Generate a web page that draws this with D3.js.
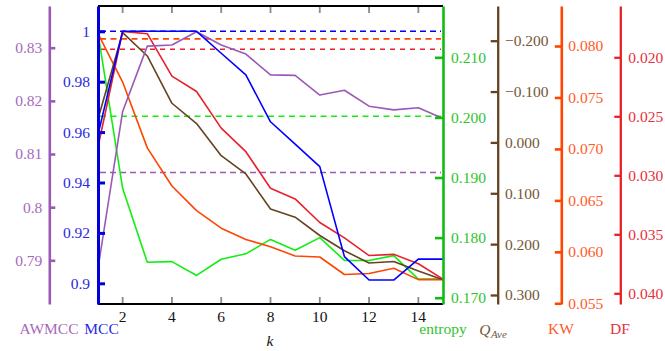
<!DOCTYPE html>
<html>
<head>
<meta charset="utf-8">
<script src="https://cdn.jsdelivr.net/npm/d3@7/dist/d3.min.js"></script>
<style>
  html, body { margin: 0; padding: 0; background: #fff; }
  svg { display: block; font-family: "Liberation Serif", "DejaVu Serif", serif; }
</style>
</head>
<body>
<svg id="chart" width="665" height="351"></svg>
<script>
// Number of clusters k
const ks = [1, 2, 3, 4, 5, 6, 7, 8, 9, 10, 11, 12, 13, 14, 15];
const kTicks = [2, 4, 6, 8, 10, 12, 14];

// Scores per k
const awmcc   = [0.7885, 0.8180, 0.8303, 0.8305, 0.8330, 0.8305, 0.8288, 0.8249, 0.8248, 0.8211, 0.8220, 0.8190, 0.8183, 0.8187, 0.8167];
const mcc     = [0.959, 1.0, 1.0, 1.0, 1.0, 0.9913, 0.9827, 0.9641, 0.9552, 0.9463, 0.9106, 0.9013, 0.9013, 0.9096, 0.9096];
const entropy = [0.2140, 0.1882, 0.1759, 0.1760, 0.1737, 0.1764, 0.1773, 0.1797, 0.1779, 0.1800, 0.1762, 0.1762, 0.1770, 0.1731, 0.1731];
const qave    = [-0.046, -0.216, -0.170, -0.077, -0.037, 0.026, 0.062, 0.131, 0.147, 0.183, 0.213, 0.237, 0.234, 0.253, 0.270];
const kw      = [0.0812, 0.0765, 0.0701, 0.0664, 0.0640, 0.0623, 0.0612, 0.0605, 0.0596, 0.0595, 0.0578, 0.0579, 0.0584, 0.0573, 0.0573];
const df      = [0.0276, 0.0178, 0.0180, 0.0216, 0.0229, 0.0260, 0.0280, 0.0311, 0.0320, 0.0340, 0.0353, 0.0368, 0.0367, 0.0375, 0.0388];

// Reference levels (dashed)
const refAwmcc = 0.8065;
const refMcc = 1.0;
const refEntropy = 0.2002;
const refKw = 0.0807;
const refDf = 0.01932;

// Tick values and labels per axis
const awTicks = [0.79, 0.80, 0.81, 0.82, 0.83];
const awLabels = ["0.79", "0.8", "0.81", "0.82", "0.83"];
const mccTicks = [0.90, 0.92, 0.94, 0.96, 0.98, 1.00];
const mccLabels = ["0.9", "0.92", "0.94", "0.96", "0.98", "1"];
const entTicks = [0.17, 0.18, 0.19, 0.20, 0.21];
const entLabels = ["0.170", "0.180", "0.190", "0.200", "0.210"];
const qTicks = [-0.2, -0.1, 0.0, 0.1, 0.2, 0.3];
const qLabels = ["\u22120.200", "\u22120.100", "0.000", "0.100", "0.200", "0.300"];
const kwTicks = [0.055, 0.060, 0.065, 0.070, 0.075, 0.080];
const kwLabels = ["0.055", "0.060", "0.065", "0.070", "0.075", "0.080"];
const dfTicks = [0.020, 0.025, 0.030, 0.035, 0.040];
const dfLabels = ["0.020", "0.025", "0.030", "0.035", "0.040"];

const C = {
  purple: "#9b59b6",
  blue: "#0000ff",
  green: "#11ee11",
  greenAxis: "#11bb11",
  brown: "#654321",
  orange: "#ff4500",
  red: "#e8202a"
};

const svg = d3.select("#chart");
const plotTop = 6, plotBottom = 304, plotLeft = 98, plotRight = 443;
const FS = 15.5;

const x = d3.scaleLinear().domain([1, 15]).range([plotLeft, plotRight]);
const yAw  = d3.scaleLinear().domain([0.78178, 0.83785]).range([plotBottom, plotTop]);
const yMcc = d3.scaleLinear().domain([0.89179, 1.01004]).range([plotBottom, plotTop]);
const yEnt = d3.scaleLinear().domain([0.16895, 0.21854]).range([plotBottom, plotTop]);
const yQ   = d3.scaleLinear().domain([-0.26823, 0.31770]).range([plotTop, plotBottom]);
const yKw  = d3.scaleLinear().domain([0.083887, 0.054932]).range([plotTop, plotBottom]);
const yDf  = d3.scaleLinear().domain([0.015653, 0.040907]).range([plotTop, plotBottom]);

// Frame: top and bottom rules with grey k ticks
svg.append("line").attr("x1", plotLeft).attr("x2", plotRight).attr("y1", plotTop).attr("y2", plotTop)
  .attr("stroke", "#000").attr("stroke-width", 2.2);
svg.append("line").attr("x1", plotLeft).attr("x2", plotRight).attr("y1", plotBottom).attr("y2", plotBottom)
  .attr("stroke", "#000").attr("stroke-width", 2.2);
svg.append("g").selectAll("line").data(kTicks).join("line")
  .attr("x1", d => x(d)).attr("x2", d => x(d)).attr("y1", plotTop + 1).attr("y2", plotTop + 7)
  .attr("stroke", "#8a8a8a").attr("stroke-width", 1.8);
svg.append("g").selectAll("line").data(kTicks).join("line")
  .attr("x1", d => x(d)).attr("x2", d => x(d)).attr("y1", plotBottom - 1).attr("y2", plotBottom - 7)
  .attr("stroke", "#8a8a8a").attr("stroke-width", 1.8);
svg.append("g").selectAll("text").data(kTicks).join("text")
  .attr("x", d => x(d)).attr("y", 321.7).attr("text-anchor", "middle")
  .attr("font-size", FS).attr("fill", "#111").text(d => d);

// Dashed reference levels
const refs = [
  { v: refMcc, s: yMcc, c: C.blue, dash: "6,4", w: 1.5 },
  { v: refKw, s: yKw, c: C.orange, dash: "6,4.5", w: 1.8 },
  { v: refDf, s: yDf, c: C.red, dash: "5,5", w: 1.4 },
  { v: refEntropy, s: yEnt, c: C.green, dash: "6,4.5", w: 1.5 },
  { v: refAwmcc, s: yAw, c: C.purple, dash: "6,4", w: 1.5 }
];
svg.append("g").selectAll("line").data(refs).join("line")
  .attr("x1", x(1) + 2).attr("x2", x(15) - 2)
  .attr("y1", d => d.s(d.v)).attr("y2", d => d.s(d.v))
  .attr("stroke", d => d.c).attr("stroke-width", d => d.w)
  .attr("stroke-dasharray", d => d.dash);

// Series lines
const series = [
  { vals: entropy, s: yEnt, c: C.green },
  { vals: kw, s: yKw, c: C.orange },
  { vals: qave, s: yQ, c: C.brown },
  { vals: df, s: yDf, c: C.red },
  { vals: awmcc, s: yAw, c: C.purple },
  { vals: mcc, s: yMcc, c: C.blue }
];
series.forEach(sr => {
  const line = d3.line().x((d, i) => x(ks[i])).y(d => sr.s(d));
  svg.append("path").datum(sr.vals).attr("d", line)
    .attr("fill", "none").attr("stroke", sr.c).attr("stroke-width", 1.6)
    .attr("stroke-linejoin", "round");
});

// Axes
function styleAxis(g, color, labelColor, width) {
  g.select(".domain").attr("stroke", color).attr("stroke-width", width);
  g.selectAll(".tick line").attr("stroke", color).attr("stroke-width", width);
  g.selectAll(".tick text").attr("fill", labelColor).attr("font-size", FS)
    .attr("font-family", "Liberation Serif, DejaVu Serif, serif");
  g.attr("font-size", FS);
}
function lab(ticks, labels) { return d => labels[ticks.indexOf(d)]; }

const gAw = svg.append("g").attr("transform", "translate(49.3,0)")
  .call(d3.axisLeft(yAw).tickValues(awTicks).tickFormat(lab(awTicks, awLabels))
    .tickSizeInner(-6).tickSizeOuter(0).tickPadding(7));
styleAxis(gAw, C.purple, "#a669bb", 2.6);

const gMcc = svg.append("g").attr("transform", `translate(${plotLeft},0)`)
  .call(d3.axisLeft(yMcc).tickValues(mccTicks).tickFormat(lab(mccTicks, mccLabels))
    .tickSizeInner(-7).tickSizeOuter(0).tickPadding(8));
styleAxis(gMcc, "#0000dd", "#2a2ae0", 3);

const gEnt = svg.append("g").attr("transform", `translate(${plotRight},0)`)
  .call(d3.axisRight(yEnt).tickValues(entTicks).tickFormat(lab(entTicks, entLabels))
    .tickSizeInner(-8).tickSizeOuter(0).tickPadding(8));
styleAxis(gEnt, C.greenAxis, "#2ec42e", 2.6);

const gQ = svg.append("g").attr("transform", "translate(497.7,0)")
  .call(d3.axisRight(yQ).tickValues(qTicks).tickFormat(lab(qTicks, qLabels))
    .tickSizeInner(-7).tickSizeOuter(0).tickPadding(7.3));
styleAxis(gQ, C.brown, "#75583a", 2.3);

const gKw = svg.append("g").attr("transform", "translate(561.3,0)")
  .call(d3.axisRight(yKw).tickValues(kwTicks).tickFormat(lab(kwTicks, kwLabels))
    .tickSizeInner(-6.5).tickSizeOuter(0).tickPadding(7));
styleAxis(gKw, C.orange, "#ff5a28", 2.6);

const gDf = svg.append("g").attr("transform", "translate(620.3,0)")
  .call(d3.axisRight(yDf).tickValues(dfTicks).tickFormat(lab(dfTicks, dfLabels))
    .tickSizeInner(-6).tickSizeOuter(0).tickPadding(8));
styleAxis(gDf, C.red, "#e6303a", 2.3);

// Axis titles
const titles = svg.append("g").attr("font-size", FS);
titles.append("text").attr("x", 49).attr("y", 334.3).attr("text-anchor", "middle")
  .attr("fill", "#a669bb").text("AWMCC");
titles.append("text").attr("x", 84.3).attr("y", 334.3)
  .attr("fill", "#2a2ae0").text("MCC");
titles.append("text").attr("x", 443).attr("y", 333.5).attr("text-anchor", "middle")
  .attr("fill", "#2ec42e").text("entropy");
const q = titles.append("text").attr("x", 479.3).attr("y", 335).attr("fill", "#75583a")
  .attr("font-style", "italic");
q.append("tspan").text("Q");
q.append("tspan").attr("font-size", 11).attr("dy", 3).attr("dx", 0.5).text("Ave");
titles.append("text").attr("x", 561).attr("y", 334).attr("text-anchor", "middle")
  .attr("fill", "#ff5a28").text("KW");
titles.append("text").attr("x", 620).attr("y", 334).attr("text-anchor", "middle")
  .attr("fill", "#e6303a").text("DF");
titles.append("text").attr("x", 270).attr("y", 346).attr("text-anchor", "middle")
  .attr("fill", "#111").attr("font-style", "italic").text("k");
</script>
</body>
</html>
